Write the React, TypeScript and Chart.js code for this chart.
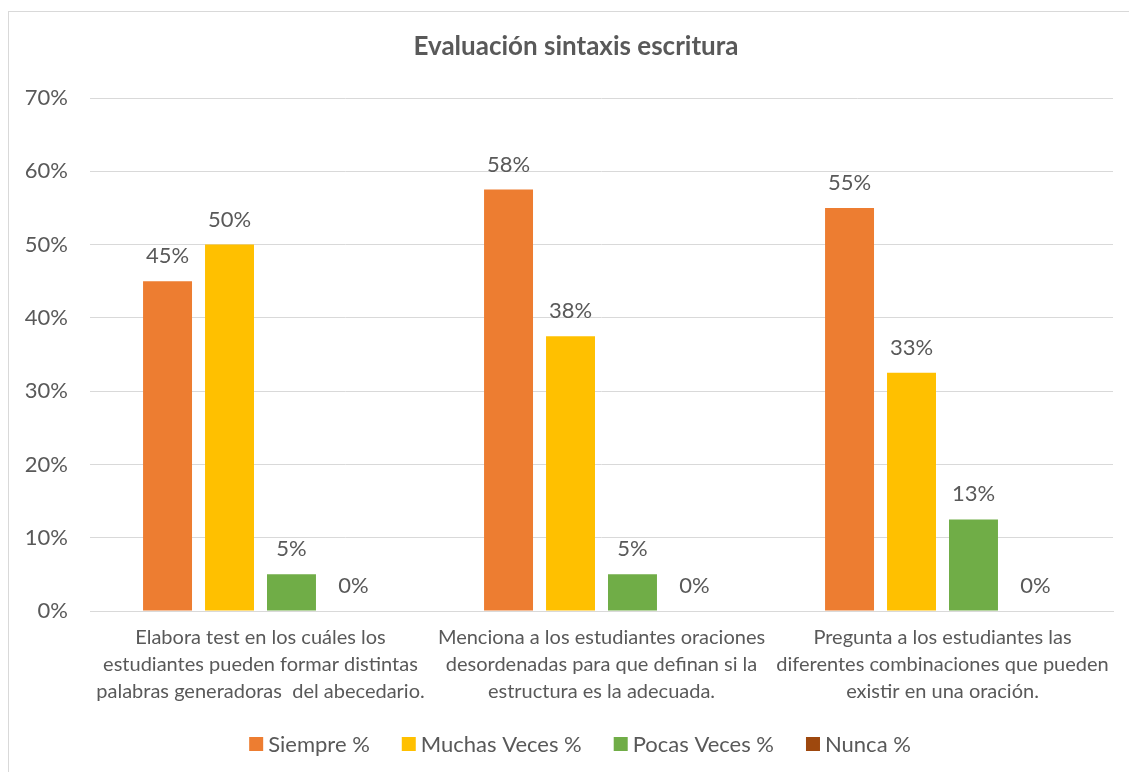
import React, { useEffect, useRef } from "react";
import { Chart, registerables } from "chart.js";

Chart.register(...registerables);

const categories: string[][] = [
  ["Elabora test en los cuáles los", "estudiantes pueden formar distintas", "palabras generadoras  del abecedario."],
  ["Menciona a los estudiantes oraciones", "desordenadas para que definan si la", "estructura es la adecuada."],
  ["Pregunta a los estudiantes las", "diferentes combinaciones que pueden", "existir en una oración."],
];
const seriesNames = ["Siempre %", "Muchas Veces %", "Pocas Veces %", "Nunca %"];
const siempre = [45, 57.5, 55];
const muchasVeces = [50, 37.5, 32.5];
const pocasVeces = [5, 5, 12.5];
const nunca = [0, 0, 0];
const seriesColors = ["#ED7D31", "#FFC000", "#70AD47", "#9E480E"];
const title = "Evaluación sintaxis escritura";

const FONT = "Lato";
const TEXT = "#595959";

const dataLabelPlugin = {
  id: "dataLabels",
  afterDatasetsDraw(chart: any) {
    const ctx = chart.ctx;
    ctx.save();
    ctx.font = `22px ${FONT}`;
    ctx.fillStyle = TEXT;
    ctx.textAlign = "center";
    ctx.textBaseline = "middle";
    chart.data.datasets.forEach((ds: any, i: number) => {
      const meta = chart.getDatasetMeta(i);
      meta.data.forEach((el: any, j: number) => {
        const v = ds.data[j] as number;
        ctx.fillText(Math.round(v) + "%", el.x, el.y - 25);
      });
    });
    ctx.restore();
  },
};

// Title and legend drawn by a plugin so they can be centred like the original
const titleLegendPlugin = {
  id: "titleLegend",
  afterDraw(chart: any) {
    const ctx = chart.ctx;
    ctx.save();
    // title
    ctx.font = `bold 26px ${FONT}`;
    ctx.fillStyle = TEXT;
    ctx.textAlign = "center";
    ctx.textBaseline = "middle";
    ctx.fillText(title, 567, 35);
    // legend
    ctx.font = `22px ${FONT}`;
    const box = 14;
    const gapText = 5;
    const gapItem = 32;
    const items = chart.data.datasets.map((ds: any) => ({
      label: ds.label as string,
      color: ds.backgroundColor as string,
      w: ctx.measureText(ds.label).width,
    }));
    const total =
      items.reduce((a: number, it: any) => a + box + gapText + it.w, 0) + gapItem * (items.length - 1);
    let x = 571 - total / 2;
    const y = 732;
    ctx.textAlign = "left";
    items.forEach((it: any) => {
      ctx.fillStyle = it.color;
      ctx.fillRect(x, y - box / 2, box, box);
      x += box + gapText;
      ctx.fillStyle = TEXT;
      ctx.fillText(it.label, x, y + 1);
      x += it.w + gapItem;
    });
    ctx.restore();
  },
};

export default function App() {
  const ref = useRef<HTMLCanvasElement>(null);
  useEffect(() => {
    if (!ref.current) return;
    const all = [siempre, muchasVeces, pocasVeces, nunca];
    const chart = new Chart(ref.current, {
      type: "bar",
      data: {
        labels: categories,
        datasets: all.map((d, i) => ({
          label: seriesNames[i],
          data: d,
          backgroundColor: seriesColors[i],
          borderWidth: 0,
          barPercentage: 0.79,
          categoryPercentage: 0.727,
        })),
      },
      options: {
        responsive: false,
        animation: false,
        layout: { padding: { left: 0, right: 16, top: 86, bottom: 67 } },
        plugins: {
          title: { display: false },
          legend: { display: false },
          tooltip: { enabled: false },
        },
        scales: {
          x: {
            grid: { display: false, drawTicks: false },
            border: { display: true, color: "#D9D9D9", width: 1 },
            ticks: {
              color: TEXT,
              font: { family: FONT, size: 20, lineHeight: 1.35 },
              padding: 13,
              maxRotation: 0,
              autoSkip: false,
            },
            afterFit: (s: any) => {
              s.height = 94;
            },
          },
          y: {
            min: 0,
            max: 70,
            grid: { color: "#D9D9D9", drawTicks: false },
            border: { display: false },
            ticks: {
              stepSize: 10,
              color: TEXT,
              font: { family: FONT, size: 22 },
              padding: 22,
              callback: (v: any) => v + "%",
            },
            afterFit: (s: any) => {
              s.width = 81;
            },
          },
        },
      },
      plugins: [dataLabelPlugin, titleLegendPlugin],
    });
    return () => chart.destroy();
  }, []);
  return (
    <div
      style={{
        position: "absolute",
        left: 8,
        top: 11,
        width: 1121,
        height: 761,
        boxSizing: "border-box",
        borderLeft: "1px solid #D9D9D9",
        borderTop: "1px solid #D9D9D9",
        background: "#fff",
      }}
    >
      <canvas ref={ref} width={1120} height={760} style={{ display: "block", width: 1120, height: 760 }} />
    </div>
  );
}
